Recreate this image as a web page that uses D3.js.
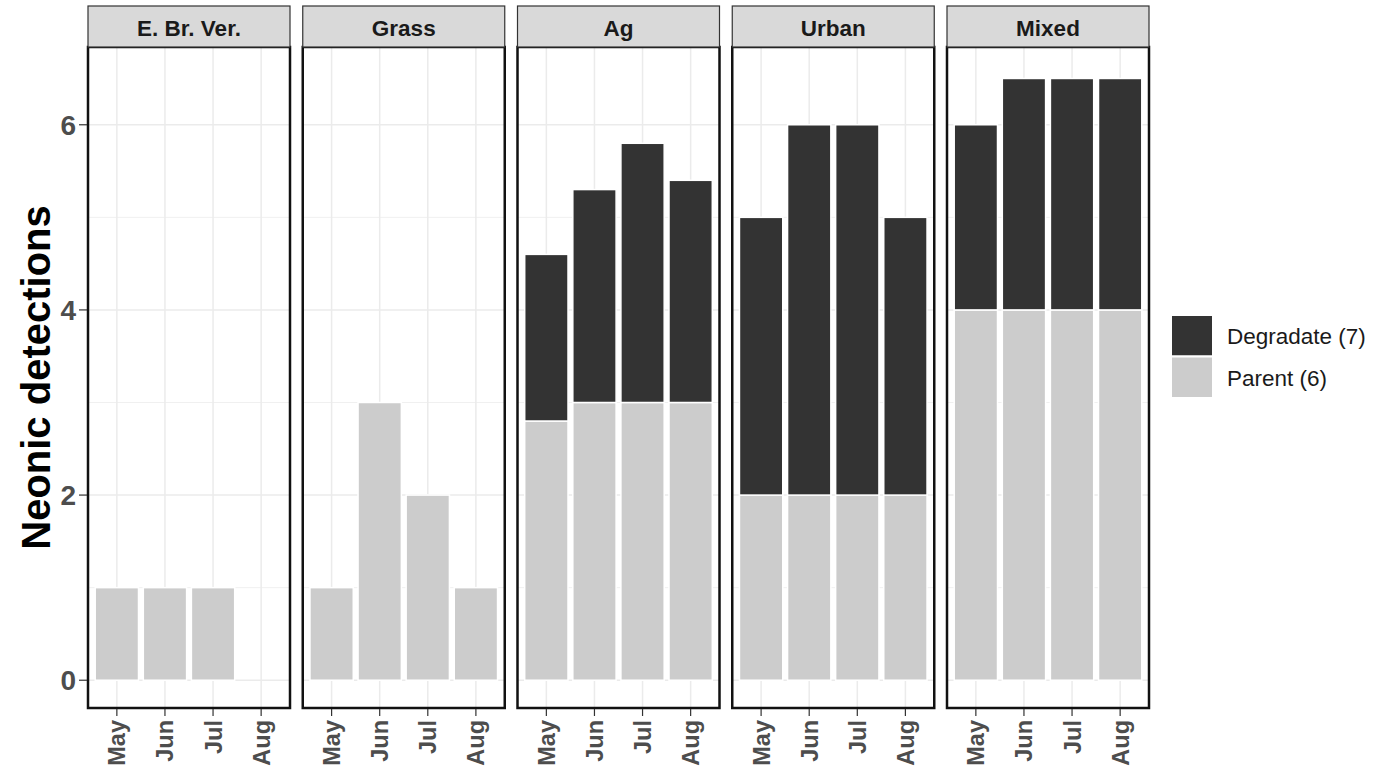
<!DOCTYPE html>
<html><head><meta charset="utf-8">
<script src="https://cdn.jsdelivr.net/npm/d3@7"></script>
<style>body{margin:0;background:#fff;} svg{display:block;font-family:"Liberation Sans",Arial,sans-serif;}</style>
</head><body>
<svg id="c" width="1389" height="777"></svg>
<script>
const panels = ["E. Br. Ver.", "Grass", "Ag", "Urban", "Mixed"];
const months = ["May", "Jun", "Jul", "Aug"];
const parentVals = [
  [1, 1, 1, 0],
  [1, 3, 2, 1],
  [2.8, 3, 3, 3],
  [2, 2, 2, 2],
  [4, 4, 4, 4]
];
const degradateVals = [
  [0, 0, 0, 0],
  [0, 0, 0, 0],
  [1.8, 2.3, 2.8, 2.4],
  [3, 4, 4, 3],
  [2, 2.5, 2.5, 2.5]
];
const yTicks = [0, 2, 4, 6];
const yMinor = [1, 3, 5];
const seriesNames = ["Degradate (7)", "Parent (6)"];
const seriesColors = ["#333333", "#cccccc"];

const svg = d3.select("#c");
const plotTop = 47, plotBottom = 708, stripTop = 6;
const panelW = 202, panelStep = 214.75, panelX0 = 88;
const y = d3.scaleLinear().domain([-0.30, 6.84]).range([plotBottom, plotTop]);

panels.forEach((name, i) => {
  const x0 = panelX0 + i * panelStep;
  const x = d3.scalePoint().domain(months).range([x0, x0 + panelW]).padding(0.6);
  const bw = x.step() * 0.9;
  const g = svg.append("g");
  g.append("rect").attr("x", x0).attr("y", plotTop).attr("width", panelW).attr("height", plotBottom - plotTop).attr("fill", "#fff");
  g.selectAll(".ymin").data(yMinor).join("line")
    .attr("x1", x0).attr("x2", x0 + panelW).attr("y1", d => y(d)).attr("y2", d => y(d))
    .attr("stroke", "#f0f0f0").attr("stroke-width", 1);
  g.selectAll(".ymaj").data(yTicks).join("line")
    .attr("x1", x0).attr("x2", x0 + panelW).attr("y1", d => y(d)).attr("y2", d => y(d))
    .attr("stroke", "#ebebeb").attr("stroke-width", 1.5);
  g.selectAll(".xmaj").data(months).join("line")
    .attr("x1", d => x(d)).attr("x2", d => x(d)).attr("y1", plotTop).attr("y2", plotBottom)
    .attr("stroke", "#ebebeb").attr("stroke-width", 1.5);
  months.forEach((m, j) => {
    const p = parentVals[i][j], dg = degradateVals[i][j];
    if (p > 0) g.append("rect").attr("x", x(m) - bw / 2).attr("width", bw)
      .attr("y", y(p)).attr("height", y(0) - y(p))
      .attr("fill", seriesColors[1]).attr("stroke", "#fff").attr("stroke-width", 1.5);
    if (dg > 0) g.append("rect").attr("x", x(m) - bw / 2).attr("width", bw)
      .attr("y", y(p + dg)).attr("height", y(p) - y(p + dg))
      .attr("fill", seriesColors[0]).attr("stroke", "#fff").attr("stroke-width", 1.5);
  });
  g.append("rect").attr("x", x0).attr("y", plotTop).attr("width", panelW).attr("height", plotBottom - plotTop)
    .attr("fill", "none").attr("stroke", "#111").attr("stroke-width", 2.5);
  g.append("rect").attr("x", x0).attr("y", stripTop).attr("width", panelW).attr("height", plotTop - stripTop)
    .attr("fill", "#d9d9d9").attr("stroke", "#333").attr("stroke-width", 1.2);
  g.append("text").attr("x", x0 + panelW / 2).attr("y", (stripTop + plotTop) / 2 + 1.5).attr("dy", "0.36em")
    .attr("text-anchor", "middle").attr("font-size", 22.5).attr("font-weight", "bold").attr("fill", "#1a1a1a").text(name);
  g.selectAll(".xt").data(months).join("line")
    .attr("x1", d => x(d)).attr("x2", d => x(d)).attr("y1", plotBottom + 1).attr("y2", plotBottom + 8)
    .attr("stroke", "#333").attr("stroke-width", 1.2);
  g.selectAll(".xl").data(months).join("text")
    .attr("transform", d => `translate(${x(d)},${plotBottom + 12}) rotate(-90)`)
    .attr("dy", "0.36em").attr("text-anchor", "end")
    .attr("font-size", 23.5).attr("font-weight", "bold").attr("fill", "#4d4d4d").text(d => d);
});

const ya = svg.append("g");
ya.selectAll("line").data(yTicks).join("line")
  .attr("x1", panelX0 - 9).attr("x2", panelX0 - 1).attr("y1", d => y(d)).attr("y2", d => y(d))
  .attr("stroke", "#333").attr("stroke-width", 1.2);
ya.selectAll("text").data(yTicks).join("text")
  .attr("x", panelX0 - 12).attr("y", d => y(d)).attr("dy", "0.36em").attr("text-anchor", "end")
  .attr("font-size", 28).attr("font-weight", "bold").attr("fill", "#4d4d4d").text(d => d);
svg.append("text").attr("transform", `translate(36,${(plotTop + plotBottom) / 2}) rotate(-90)`)
  .attr("dy", "0.36em").attr("text-anchor", "middle")
  .attr("font-size", 40).attr("font-weight", "bold").attr("fill", "#000").text("Neonic detections");

const lg = svg.append("g");
seriesNames.forEach((s, k) => {
  const ky = 315 + k * 41.5;
  lg.append("rect").attr("x", 1171).attr("y", ky).attr("width", 42).attr("height", 41.5)
    .attr("fill", seriesColors[k]).attr("stroke", "#fff").attr("stroke-width", 2);
  lg.append("text").attr("x", 1227).attr("y", ky + 21).attr("dy", "0.36em")
    .attr("font-size", 22.5).attr("fill", "#1a1a1a").text(s);
});
</script>
</body></html>
